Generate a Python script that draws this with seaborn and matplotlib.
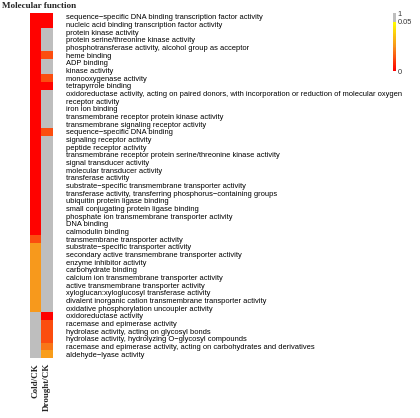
import numpy as np
import pandas as pd
import seaborn as sns
import matplotlib.pyplot as plt
from matplotlib.colors import LinearSegmentedColormap, ListedColormap, Normalize
from matplotlib.cm import ScalarMappable

# GO terms (Molecular function) and enrichment p-values, 1 = not significant
terms = [
    "sequence\u2212specific DNA binding transcription factor activity",
    "nucleic acid binding transcription factor activity",
    "protein kinase activity",
    "protein serine/threonine kinase activity",
    "phosphotransferase activity, alcohol group as acceptor",
    "heme binding",
    "ADP binding",
    "kinase activity",
    "monooxygenase activity",
    "tetrapyrrole binding",
    "oxidoreductase activity, acting on paired donors, with incorporation or reduction of molecular oxygen",
    "receptor activity",
    "iron ion binding",
    "transmembrane receptor protein kinase activity",
    "transmembrane signaling receptor activity",
    "sequence\u2212specific DNA binding",
    "signaling receptor activity",
    "peptide receptor activity",
    "transmembrane receptor protein serine/threonine kinase activity",
    "signal transducer activity",
    "molecular transducer activity",
    "transferase activity",
    "substrate\u2212specific transmembrane transporter activity",
    "transferase activity, transferring phosphorus\u2212containing groups",
    "ubiquitin protein ligase binding",
    "small conjugating protein ligase binding",
    "phosphate ion transmembrane transporter activity",
    "DNA binding",
    "calmodulin binding",
    "transmembrane transporter activity",
    "substrate\u2212specific transporter activity",
    "secondary active transmembrane transporter activity",
    "enzyme inhibitor activity",
    "carbohydrate binding",
    "calcium ion transmembrane transporter activity",
    "active transmembrane transporter activity",
    "xyloglucan:xyloglucosyl transferase activity",
    "divalent inorganic cation transmembrane transporter activity",
    "oxidative phosphorylation uncoupler activity",
    "oxidoreductase activity",
    "racemase and epimerase activity",
    "hydrolase activity, acting on glycosyl bonds",
    "hydrolase activity, hydrolyzing O\u2212glycosyl compounds",
    "racemase and epimerase activity, acting on carbohydrates and derivatives",
    "aldehyde\u2212lyase activity",
]

cold_p = [0.0005] * 29 + [0.013] + [0.026] * 9 + [1] * 6
drought_p = [0.0005, 0.0005, 1, 1, 1, 0.013, 1, 1, 0.013, 0.0005,
             1, 1, 1, 1, 1, 0.013] + [1] * 23 + [0.0005, 0.013, 0.013, 0.013, 0.02, 0.027]

columns = ["Cold/CK", "Drought/CK"]

df = pd.DataFrame({"Cold/CK": cold_p, "Drought/CK": drought_p}, index=terms)

gray = "#BEBEBE"
cmap = LinearSegmentedColormap.from_list("ry", ["#FF0000", "#F7941D", "#FFFF00"])
cmap.set_over(gray)

sns.set_style("white")
plt.rcParams["font.family"] = ["Liberation Sans", "DejaVu Sans"]

fig = plt.figure(figsize=(4.2, 4.18), dpi=100)
ax = fig.add_axes([30 / 420, 1 - 358 / 418, 22.5 / 420, 345 / 418])

sns.heatmap(df, cmap=cmap, vmin=0, vmax=0.05, cbar=False, ax=ax, linewidths=0)

ax.yaxis.tick_right()
ax.set_yticks(np.arange(len(terms)) + 0.5)
ax.set_yticklabels(terms, rotation=0, fontsize=5.42, ha="left", color="black")
ax.tick_params(axis="y", length=0, pad=10)
ax.set_xticks(np.arange(len(columns)) + 0.5)
ax.set_xticklabels(columns, rotation=90, fontsize=6.5, fontweight="bold",
                   family="Liberation Serif")
ax.tick_params(axis="x", length=0, pad=3.5)

# legend bar: red->yellow for 0..0.05, gray above
bar_colors = list(cmap(np.linspace(0, 1, 85))) + [gray] * 15
bar_cmap = ListedColormap(bar_colors)
cax = fig.add_axes([393 / 420, 1 - 71 / 418, 3 / 420, 58 / 418])
cb = fig.colorbar(ScalarMappable(norm=Normalize(0, 1), cmap=bar_cmap), cax=cax)
cb.outline.set_visible(False)
cb.set_ticks([0, 0.85, 1])
cb.set_ticklabels(["0", "0.05", "1"])
cb.ax.tick_params(length=0, labelsize=5.3, pad=1, colors="#333333")

fig.text(0.005, 1 - 6 / 418, "Molecular function", fontsize=6.6, fontweight="bold",
         family="Liberation Serif", va="center", ha="left")

fig.savefig("out.png", dpi=100)
